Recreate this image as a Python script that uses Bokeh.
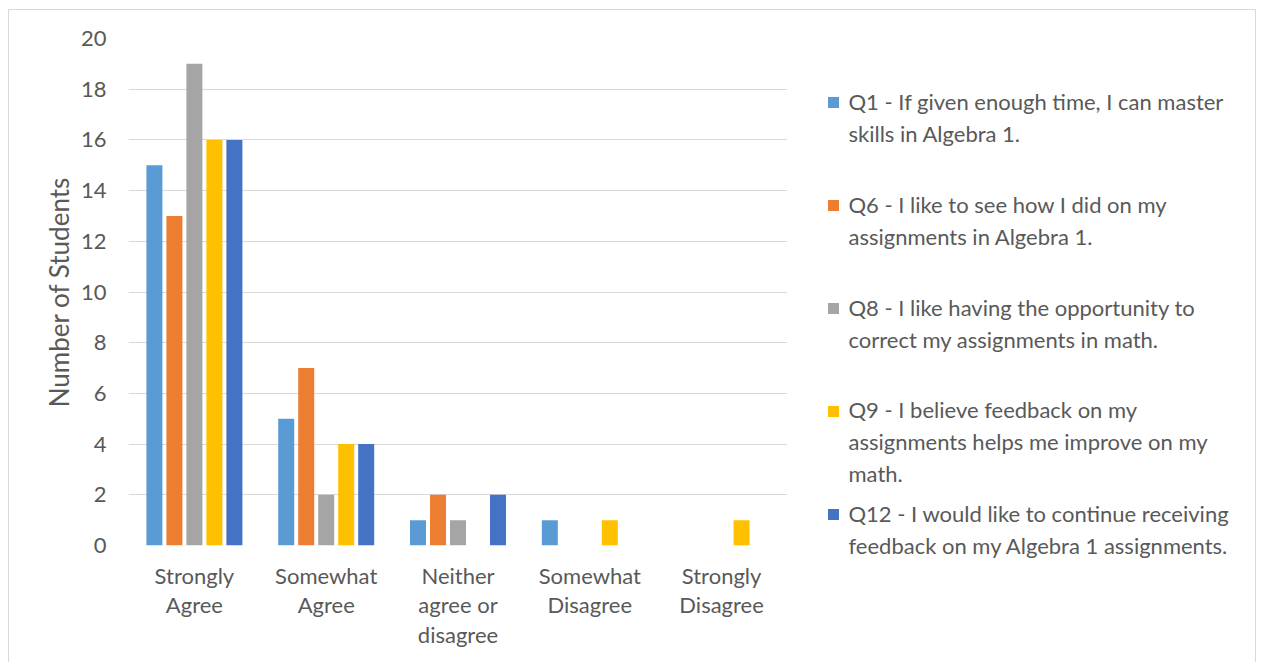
from bokeh.plotting import figure
from bokeh.models import Range1d, ColumnDataSource, FixedTicker
from bokeh.layouts import row, column
from bokeh.embed import file_html
from bokeh.resources import INLINE
from bokeh.core.properties import value

categories = ["Strongly\nAgree", "Somewhat\nAgree", "Neither\nagree or\ndisagree",
              "Somewhat\nDisagree", "Strongly\nDisagree"]
series_names = [
    "Q1 - If given enough time, I can master\nskills in Algebra 1.",
    "Q6 - I like to see how I did on my\nassignments in Algebra 1.",
    "Q8 - I like having the opportunity to\ncorrect my assignments in math.",
    "Q9 - I believe feedback on my\nassignments helps me improve on my\nmath.",
    "Q12 - I would like to continue receiving\nfeedback on my Algebra 1 assignments.",
]
q1 = [15, 5, 1, 1, 0]
q6 = [13, 7, 2, 0, 0]
q8 = [19, 2, 1, 0, 0]
q9 = [16, 4, 0, 1, 1]
q12 = [16, 4, 2, 0, 0]
series = [q1, q6, q8, q9, q12]
colors = ["#5B9BD5", "#ED7D31", "#A5A5A5", "#FFC000", "#4472C4"]
y_ticks = list(range(0, 21, 2))

FONT = "Lato"
TXT = "#595959"
BORDER = "#D9D9D9"

p = figure(width=800, height=662, output_backend="svg", toolbar_location=None,
           x_range=Range1d(0, 5), y_range=Range1d(0, 20),
           min_border_left=128, min_border_right=13, min_border_top=38, min_border_bottom=117)
p.outline_line_color = None
p.background_fill_color = "white"
p.border_fill_color = None

step = 0.1517
width = 0.1214
for i, (vals, col) in enumerate(zip(series, colors)):
    xs = [k + 0.5 + (i - 2) * step for k in range(len(categories))]
    src = ColumnDataSource(dict(x=xs, top=vals))
    p.vbar(x="x", top="top", bottom=0, width=width, source=src,
           fill_color=col, line_color=None)

p.xgrid.grid_line_color = None
p.ygrid.grid_line_color = BORDER
p.ygrid.grid_line_width = 1
p.yaxis.ticker = FixedTicker(ticks=y_ticks)
p.xaxis.ticker = FixedTicker(ticks=[k + 0.5 for k in range(len(categories))])
p.xaxis.major_label_overrides = {k + 0.5: c for k, c in enumerate(categories)}
for ax in (p.xaxis[0], p.yaxis[0]):
    ax.axis_line_color = None
    ax.major_tick_line_color = None
    ax.minor_tick_line_color = None
    ax.major_label_text_font = FONT
    ax.major_label_text_font_size = "22px"
    ax.major_label_text_color = TXT
p.yaxis.major_label_standoff = 16
p.xaxis.major_label_standoff = 10
p.xaxis.major_label_text_line_height = 1.1
p.yaxis.axis_label = "Number of Students"
p.yaxis.axis_label_text_font = FONT
p.yaxis.axis_label_text_font_size = "26px"
p.yaxis.axis_label_text_font_style = "normal"
p.yaxis.axis_label_text_color = TXT
p.yaxis.axis_label_standoff = 3

# legend panel (data units equal pixels of the page)
leg = figure(width=461, height=662, output_backend="svg", toolbar_location=None,
             x_range=Range1d(800, 1261), y_range=Range1d(662, 0),
             min_border_left=0, min_border_right=0,
             min_border_top=0, min_border_bottom=0)
leg.axis.visible = False
leg.grid.visible = False
leg.outline_line_color = None
leg.background_fill_color = None
leg.border_fill_color = None
n_lines = [s.count("\n") + 1 for s in series_names]
ly = [102 + i * 103 for i in range(len(series_names))]
ty = [y + (n - 1) * 15 for y, n in zip(ly, n_lines)]
lsrc = ColumnDataSource(dict(y=ly, ty=ty, name=series_names, color=colors))
leg.rect(x=833, y="y", width=11, height=11, fill_color="color", line_color=None, source=lsrc)
leg.text(x=848, y="ty", text="name", source=lsrc, text_font=value(FONT),
         text_font_size="22px", text_color=TXT, text_baseline="middle",
         text_line_height=1.17)

bg = ("linear-gradient({c},{c}) 8px 9px / 1px 100% no-repeat, "
      "linear-gradient({c},{c}) 8px 9px / 1248px 1px no-repeat, "
      "linear-gradient({c},{c}) 1255px 9px / 1px 100% no-repeat, white").format(c=BORDER)
layout = row(p, column(leg), styles={"background": bg})
open("out.html", "w").write(file_html(layout, INLINE))
